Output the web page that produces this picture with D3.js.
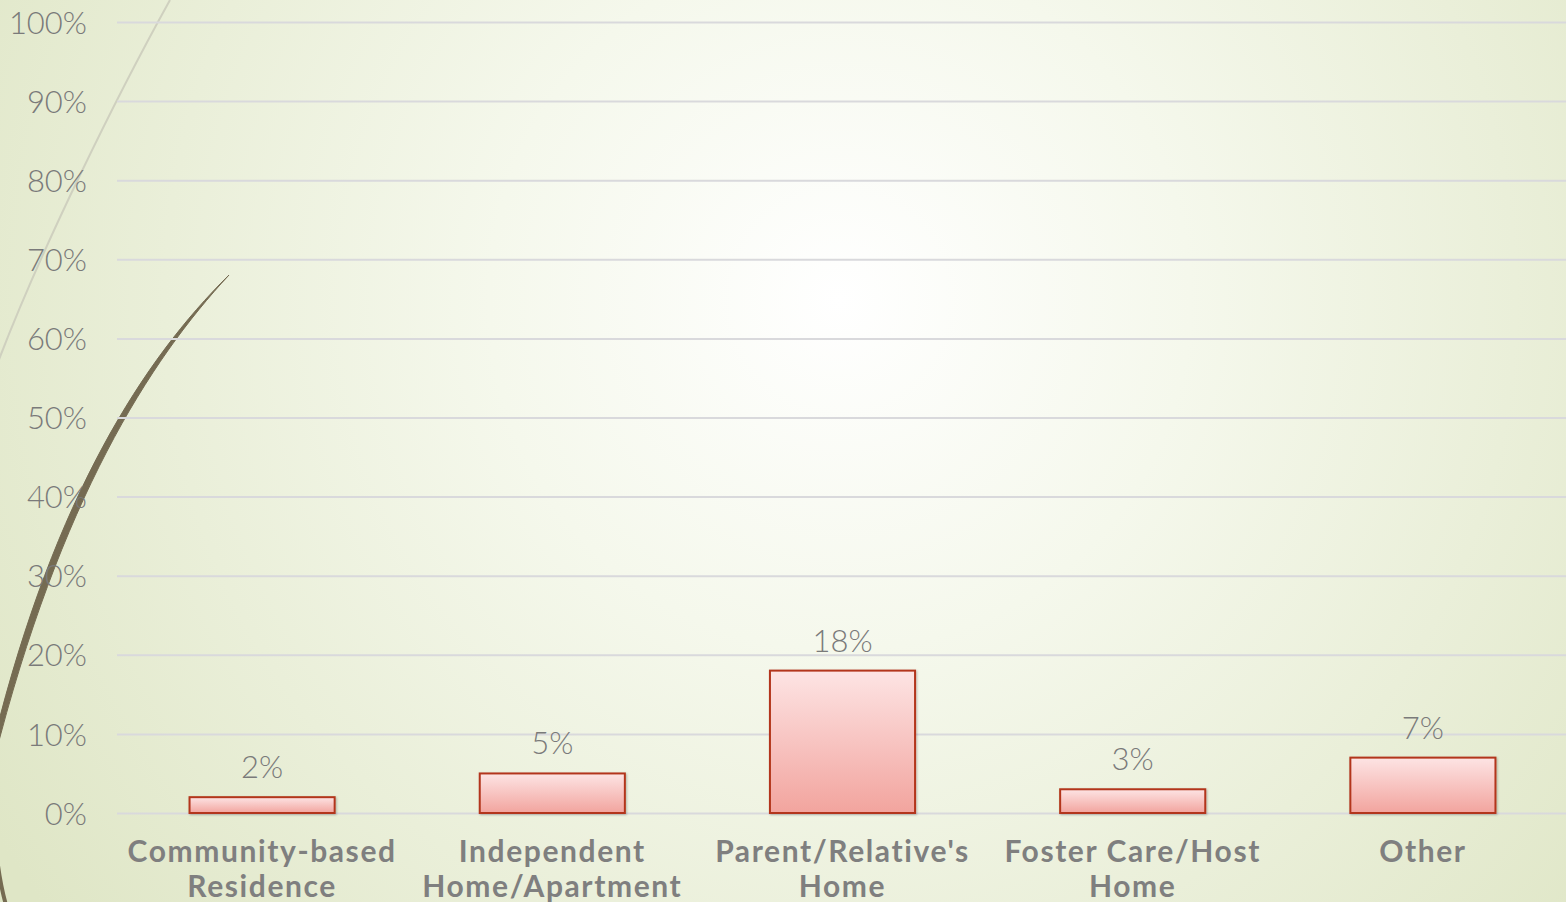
<!DOCTYPE html>
<html>
<head>
<meta charset="utf-8">
<script src="https://cdn.jsdelivr.net/npm/d3@7"></script>
<style>
  html, body { margin: 0; padding: 0; overflow: hidden; }
  svg { display: block; }
</style>
</head>
<body>
<svg id="chart" width="1566" height="902"></svg>
<script>
// chart data
var categories = [
  ['Community-based', 'Residence'],
  ['Independent', 'Home/Apartment'],
  ["Parent/Relative's", 'Home'],
  ['Foster Care/Host', 'Home'],
  ['Other']
];
var values = [0.02, 0.05, 0.18, 0.03, 0.07];
var yTicks = [0, 0.1, 0.2, 0.3, 0.4, 0.5, 0.6, 0.7, 0.8, 0.9, 1.0];

var width = 1566, height = 902;
var plot = { left: 117, right: 1568, top: 22, bottom: 813 };

var svg = d3.select('#chart');
var defs = svg.append('defs');

// slide-like background
var bg = defs.append('radialGradient')
  .attr('id', 'bg-grad')
  .attr('gradientUnits', 'userSpaceOnUse')
  .attr('cx', 840).attr('cy', 300).attr('r', 1000);
bg.append('stop').attr('offset', '0%').attr('stop-color', '#ffffff');
bg.append('stop').attr('offset', '35%').attr('stop-color', '#f5f8ec');
bg.append('stop').attr('offset', '100%').attr('stop-color', '#dfe6c6');

var barGrad = defs.append('linearGradient')
  .attr('id', 'bar-grad')
  .attr('x1', 0).attr('y1', 0).attr('x2', 0).attr('y2', 1);
barGrad.append('stop').attr('offset', '0%').attr('stop-color', '#fde4e4');
barGrad.append('stop').attr('offset', '100%').attr('stop-color', '#f2a49e');

var shadow = defs.append('filter').attr('id', 'shadow')
  .attr('x', '-10%').attr('y', '-10%').attr('width', '130%').attr('height', '130%');
shadow.append('feDropShadow')
  .attr('dx', 1).attr('dy', 1).attr('stdDeviation', 1.2)
  .attr('flood-color', '#000').attr('flood-opacity', 0.25);

svg.append('rect')
  .attr('width', width).attr('height', height)
  .attr('fill', 'url(#bg-grad)');

// decorative curves on the left
svg.append('path')
  .attr('d', 'M170,0 C120,90 40,250 -5,370')
  .attr('fill', 'none')
  .attr('stroke', '#cfd0bf')
  .attr('stroke-width', 2);

svg.append('path')
  .attr('d', 'M229,275 C150,360 60,500 -6,760 L-6,740 C55,495 145,358 228,276 Z')
  .attr('fill', '#756b52')
  .attr('stroke', '#756b52')
  .attr('stroke-width', 1);
svg.append('path')
  .attr('d', 'M-6,760 C-8,820 -4,870 6,905')
  .attr('fill', 'none')
  .attr('stroke', '#756b52')
  .attr('stroke-width', 4);

// scales
var x = d3.scaleBand()
  .domain(d3.range(values.length))
  .range([plot.left, plot.right])
  .paddingInner(0.5)
  .paddingOuter(0.25);

var y = d3.scaleLinear()
  .domain([0, 1])
  .range([plot.bottom, plot.top]);

// gridlines + y labels
var yAxis = svg.append('g')
  .attr('transform', 'translate(' + plot.left + ',0)')
  .call(d3.axisLeft(y)
    .tickValues(yTicks)
    .tickSize(-(width - plot.left))
    .tickPadding(30)
    .tickFormat(d3.format('.0%')));
yAxis.select('.domain').remove();
yAxis.selectAll('.tick line')
  .attr('stroke', '#d9d9dc')
  .attr('stroke-width', 2);
yAxis.selectAll('.tick text')
  .attr('fill', '#7a7a7a')
  .style('font-family', 'Lato, "Open Sans", sans-serif')
  .style('font-weight', 300)
  .style('font-size', '31px')
  .attr('dy', '0.36em');

// bars
svg.append('g')
  .selectAll('rect')
  .data(values)
  .join('rect')
  .attr('x', (d, i) => x(i))
  .attr('y', d => y(d))
  .attr('width', x.bandwidth())
  .attr('height', d => y(0) - y(d))
  .attr('fill', 'url(#bar-grad)')
  .attr('stroke', '#b3361c')
  .attr('stroke-width', 2)
  .attr('filter', 'url(#shadow)');

// value labels
svg.append('g')
  .selectAll('text')
  .data(values)
  .join('text')
  .attr('x', (d, i) => x(i) + x.bandwidth() / 2)
  .attr('y', d => y(d) - 19)
  .attr('text-anchor', 'middle')
  .attr('fill', '#7a7a7a')
  .style('font-family', 'Lato, "Open Sans", sans-serif')
  .style('font-weight', 300)
  .style('font-size', '31px')
  .text(d => d3.format('.0%')(d));

// category labels
var cat = svg.append('g')
  .selectAll('text')
  .data(categories)
  .join('text')
  .attr('x', (d, i) => x(i) + x.bandwidth() / 2)
  .attr('y', 862)
  .attr('text-anchor', 'middle')
  .attr('fill', '#7f7f7f')
  .style('font-family', 'Lato, "Open Sans", sans-serif')
  .style('font-weight', 700)
  .style('font-size', '30px')
  .style('letter-spacing', '1.6px');
cat.selectAll('tspan')
  .data((d, i) => d.map(t => ({ t: t, i: i })))
  .join('tspan')
  .attr('x', d => x(d.i) + x.bandwidth() / 2)
  .attr('dy', (d, j) => j === 0 ? 0 : 35)
  .text(d => d.t);
</script>
</body>
</html>
